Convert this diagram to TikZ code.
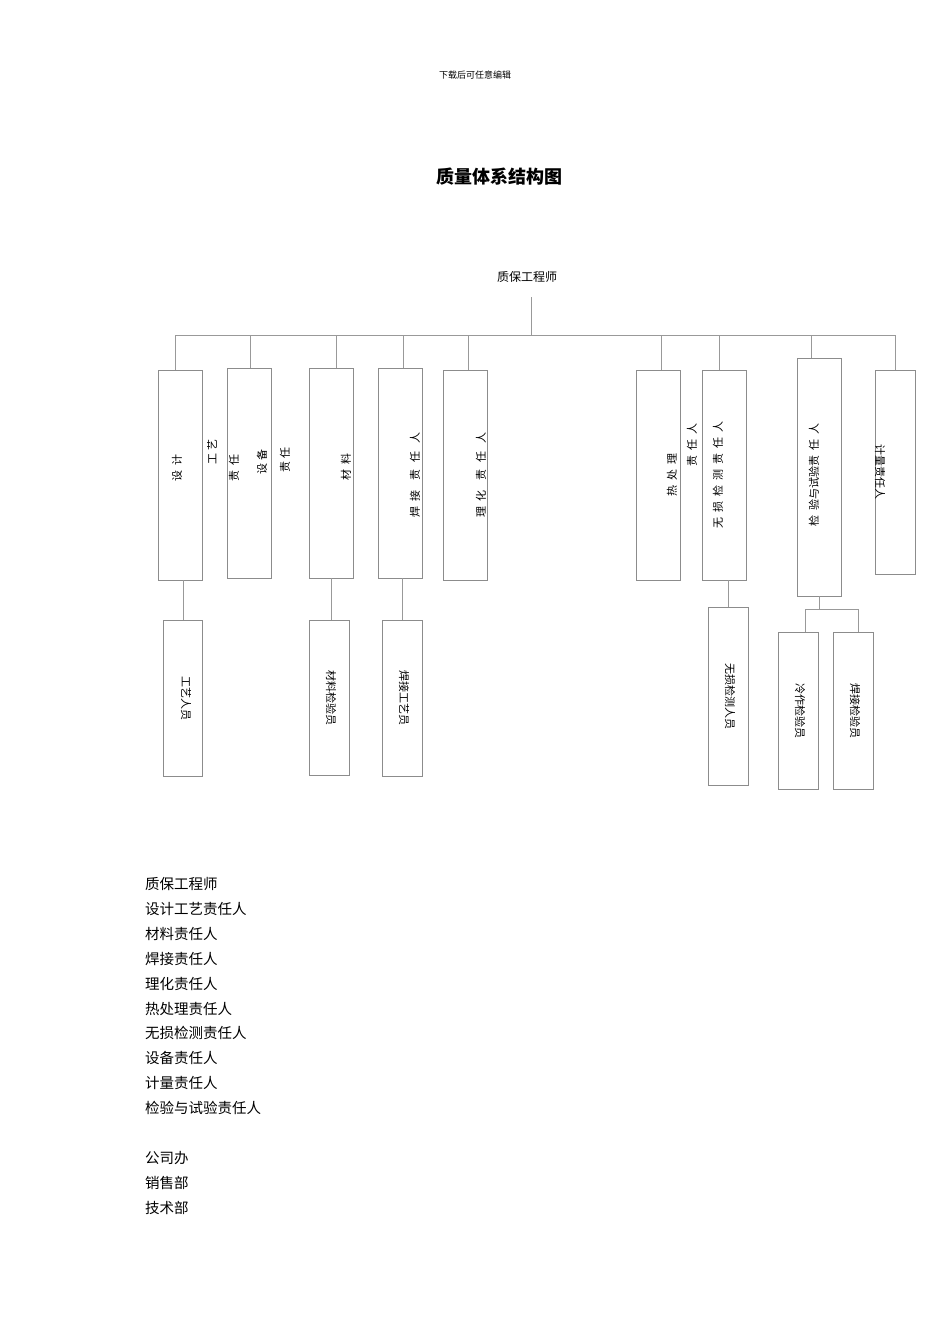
\documentclass[tikz,border=0pt]{standalone}
\usepackage{fontspec}
\setmainfont{Noto Sans CJK SC}
\begin{document}
\begin{tikzpicture}[x=1pt,y=-1pt,
  bx/.style={draw=black!45,line width=0.6pt},
  ln/.style={draw=black!40,line width=0.5pt},
  vt/.style={rotate=90,font=\fontsize{11}{11}\selectfont,inner sep=0pt},
  vd/.style={rotate=-90,font=\fontsize{11}{11}\selectfont,inner sep=0pt},
  lst/.style={anchor=west,font=\fontsize{14.5}{14.5}\selectfont,inner sep=0pt}]
\useasboundingbox (0,0) rectangle (950,1344);
\node[font=\fontsize{9}{9}\selectfont] (hd) at (475,75) {下载后可任意编辑};
\node[font=\fontsize{18}{18}\selectfont\bfseries] (tt) at (499,177) {质量体系结构图};
\node[font=\fontsize{12}{12}\selectfont] (root) at (527,277) {质保工程师};
\coordinate (r0) at (531,297);
\coordinate (r1) at (531,335);
\draw[ln] (r0) -- (r1);
\coordinate (hl) at (175,335); \coordinate (hr) at (895,335);
\draw[ln] (hl) -- (hr);
% top boxes
\draw[bx] (158,370) rectangle (202,580) coordinate (b1);
\draw[bx] (227,368) rectangle (271,578);
\draw[bx] (309,368) rectangle (353,578);
\draw[bx] (378,368) rectangle (422,578);
\draw[bx] (443,370) rectangle (487,580);
\draw[bx] (636,370) rectangle (680,580);
\draw[bx] (702,370) rectangle (746,580);
\draw[bx] (797,358) rectangle (841,596);
\draw[bx] (875,370) rectangle (915,574);
\foreach \x/\y in {175/370,250/368,336/368,403/368,468/370,661/370,719/370,811/358,895/370}
  \draw[ln] (\x,335) -- (\x,\y);
% lower boxes
\draw[bx] (163,620) rectangle (202,776);
\draw[bx] (309,620) rectangle (349,775);
\draw[bx] (382,620) rectangle (422,776);
\draw[bx] (708,607) rectangle (748,785);
\draw[bx] (778,632) rectangle (818,789);
\draw[bx] (833,632) rectangle (873,789);
\draw[ln] (183,580) -- (183,620);
\draw[ln] (331,578) -- (331,620);
\draw[ln] (402,578) -- (402,620);
\draw[ln] (728,580) -- (728,607);
\draw[ln] (819,596) -- (819,609);
\draw[ln] (805,609) -- (858,609);
\draw[ln] (805,609) -- (805,632);
\draw[ln] (858,609) -- (858,632);
% texts in top boxes
\node[vt] (t1a) at (177,468) {设\ \ 计};
\node[vt] (t1b) at (212,452) {工\ 艺};
\node[vt] (t1c) at (234,468) {责\ \ 任};
\node[vt] (t1d) at (262,462) {设\ 备};
\node[vt] (t1e) at (285,460) {责\ 任};
\node[vt] (t3) at (346,467) {材\ \ 料};
\node[vt] (t4a) at (415,475) {焊\ \ 接\ \ \ \ 责\ \ \ 任\ \ \ 人};
\node[vt] (t5) at (481,475) {理\ \ 化\ \ \ \ 责\ \ \ 任\ \ \ 人};
\node[vt] (t6a) at (672,475) {热\ \ 处\ \ 理};
\node[vt] (t6b) at (692,445) {责\ \ 任\ \ 人};
\node[vt] (t7) at (718,475) {无\ \ 损\ \ 检\ \ 测\ \ 责\ \ 任\ \ 人};
\node[vt] (t8) at (814,475) {检\ \ 验与试验责\ \ 任\ \ 人};
\node[vd] (t9) at (880,472) {计量责任人};
% texts in lower boxes
\node[vd] (l1) at (186,698) {工艺人员};
\node[vd] (l2) at (331,698) {材料检验员};
\node[vd] (l3) at (404,698) {焊接工艺员};
\node[vd] (l4) at (730,696) {无损检测人员};
\node[vd] (l5) at (800,711) {冷作检验员};
\node[vd] (l6) at (855,711) {焊接检验员};
% list
\foreach \t [count=\i] in {质保工程师,设计工艺责任人,材料责任人,焊接责任人,理化责任人,热处理责任人,无损检测责任人,设备责任人,计量责任人,检验与试验责任人}
  \node[lst] (li\i) at (145,{884+(\i-1)*24.9}) {\t};
\foreach \t [count=\i] in {公司办,销售部,技术部}
  \node[lst] (lj\i) at (145,{1158+(\i-1)*24.9}) {\t};
\end{tikzpicture}
\end{document}
